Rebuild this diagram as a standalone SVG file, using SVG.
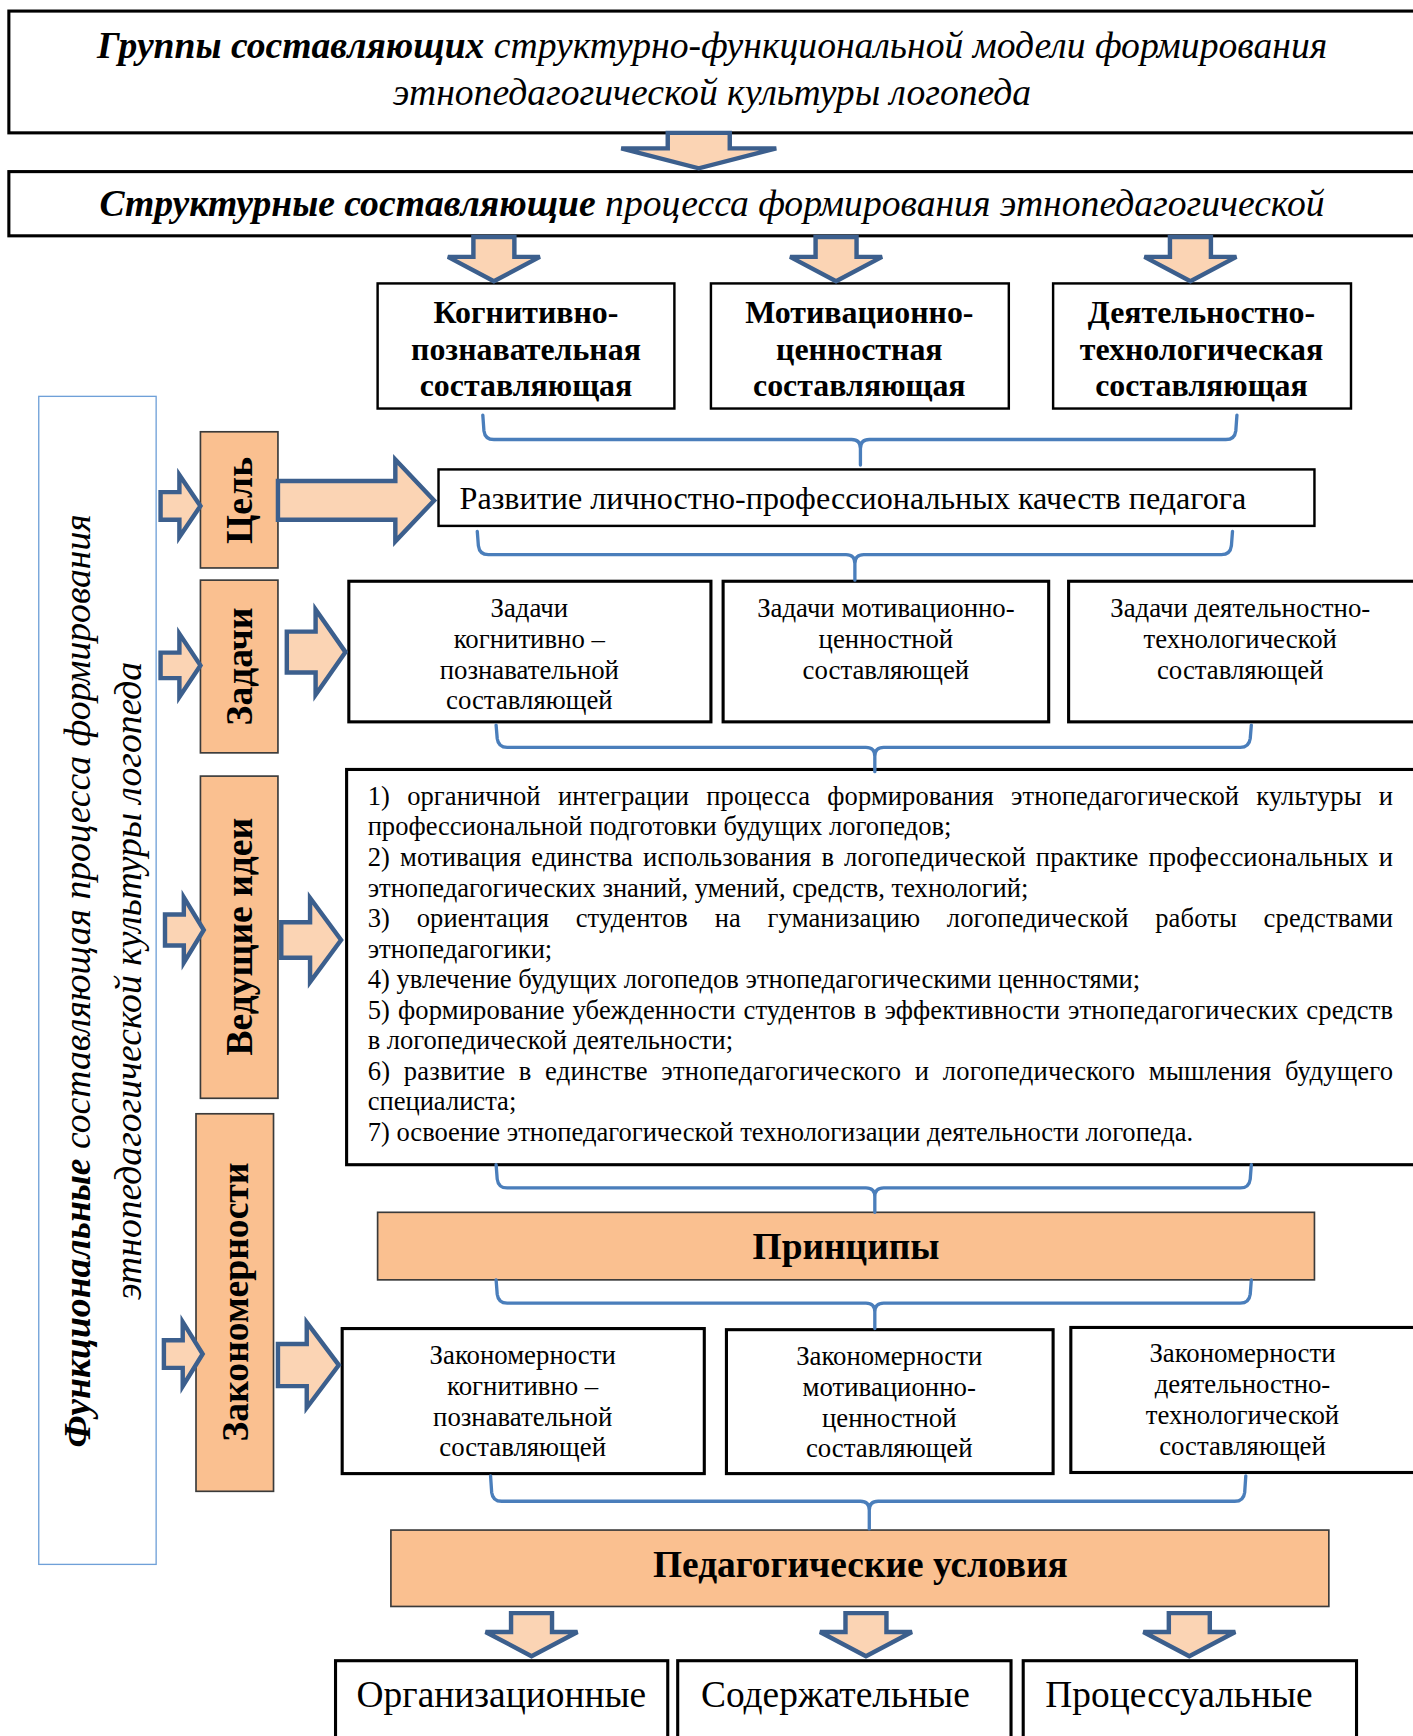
<svg xmlns="http://www.w3.org/2000/svg" width="1413" height="1736" viewBox="0 0 1413 1736">
<style>
.bx{fill:#fff;stroke:#000;stroke-width:2.2}
.bxt{fill:#fff;stroke:#000;stroke-width:2.8}
.or{fill:#FAC090;stroke:#3a3a3a;stroke-width:1.5}
.ar{fill:#FBD4B4;stroke:#3C5F8D;stroke-width:4;stroke-linejoin:miter}
.br{fill:none;stroke:#4A7EBB;stroke-width:3;stroke-linecap:round}
.t{font-family:"Liberation Serif","Times New Roman",serif;fill:#000}
.ti{font-style:italic;font-size:34px}
.b{font-weight:bold}
.hd{font-size:28.8px;font-weight:bold;text-anchor:middle}
.sm{font-size:24.2px;text-anchor:middle}
.id{font-size:24px}
.vt{font-size:34px;font-weight:bold;text-anchor:middle}
.big{font-size:33.8px}
</style>
<rect width="1413" height="1736" fill="#fff"/>
<g transform="scale(1.10737,1.10714)">
<g id="title">
<rect class="bxt" x="8" y="10" width="1290" height="110"/>
<text class="t ti" x="643" y="52" text-anchor="middle"><tspan class="b">Группы составляющих</tspan> структурно-функциональной модели формирования</text>
<text class="t ti" x="643" y="95" text-anchor="middle">этнопедагогической культуры логопеда</text>
</g>
<g id="structural">
<rect class="bxt" x="8" y="155" width="1290" height="58"/>
<text class="t ti" x="643" y="195" text-anchor="middle"><tspan class="b">Структурные составляющие</tspan> процесса формирования этнопедагогической</text>
</g>
<g id="functional">
<rect x="35" y="358" width="106" height="1055" fill="#fff" stroke="#6FA0D8" stroke-width="1.2"/>
<g transform="translate(0,886) rotate(-90)">
<text class="t ti" x="0" y="81" text-anchor="middle"><tspan class="b">Функциональные</tspan> составляющая процесса формирования</text>
<text class="t ti" x="0" y="127" text-anchor="middle">этнопедагогической культуры логопеда</text>
</g>
</g>
<g id="comp-cog">
<rect class="bx" x="341" y="256" width="268" height="113"/>
<text class="t hd" x="475" y="292">Когнитивно-</text>
<text class="t hd" x="475" y="325">познавательная</text>
<text class="t hd" x="475" y="358">составляющая</text>
</g>
<g id="comp-mot">
<rect class="bx" x="642" y="256" width="269" height="113"/>
<text class="t hd" x="776" y="292">Мотивационно-</text>
<text class="t hd" x="776" y="325">ценностная</text>
<text class="t hd" x="776" y="358">составляющая</text>
</g>
<g id="comp-act">
<rect class="bx" x="951" y="256" width="269" height="113"/>
<text class="t hd" x="1085" y="292">Деятельностно-</text>
<text class="t hd" x="1085" y="325">технологическая</text>
<text class="t hd" x="1085" y="358">составляющая</text>
</g>
<g id="goal">
<rect class="or" x="181" y="390" width="70" height="123"/>
<text class="t vt" transform="translate(216,452) rotate(-90)" x="0" y="12">Цель</text>
</g>
<g id="goal-text">
<rect class="bx" x="396" y="424" width="791" height="51" stroke-width="1.5"/>
<text class="t" x="415" y="460" font-size="29">Развитие личностно-профессиональных качеств педагога</text>
</g>
<g id="tasks">
<rect class="or" x="181" y="524" width="70" height="156"/>
<text class="t vt" transform="translate(216,602) rotate(-90)" x="0" y="12">Задачи</text>
</g>
<g id="task-cog">
<rect class="bxt" x="315" y="525" width="327" height="127"/>
<text class="t sm" x="478" y="557">Задачи</text>
<text class="t sm" x="478" y="585">когнитивно –</text>
<text class="t sm" x="478" y="613">познавательной</text>
<text class="t sm" x="478" y="640">составляющей</text>
</g>
<g id="task-mot">
<rect class="bxt" x="653" y="525" width="294" height="127"/>
<text class="t sm" x="800" y="557">Задачи мотивационно-</text>
<text class="t sm" x="800" y="585">ценностной</text>
<text class="t sm" x="800" y="613">составляющей</text>
</g>
<g id="task-act">
<rect class="bxt" x="965" y="525" width="330" height="127"/>
<text class="t sm" x="1120" y="557">Задачи деятельностно-</text>
<text class="t sm" x="1120" y="585">технологической</text>
<text class="t sm" x="1120" y="613">составляющей</text>
</g>
<g id="ideas">
<rect class="or" x="181" y="701" width="70" height="291"/>
<text class="t vt" transform="translate(216,846) rotate(-90)" x="0" y="12">Ведущие идеи</text>
</g>
<g id="ideas-list">
<rect class="bxt" x="313" y="695" width="990" height="357"/>
<text class="t id" x="332" y="727" word-spacing="9.5" textLength="926" lengthAdjust="spacing">1) органичной интеграции процесса формирования этнопедагогической культуры и</text>
<text class="t id" x="332" y="754.6">профессиональной подготовки будущих логопедов;</text>
<text class="t id" x="332" y="782.2" word-spacing="3" textLength="926" lengthAdjust="spacing">2) мотивация единства использования в логопедической практике профессиональных и</text>
<text class="t id" x="332" y="809.8">этнопедагогических знаний, умений, средств, технологий;</text>
<text class="t id" x="332" y="837.4" word-spacing="18" textLength="926" lengthAdjust="spacing">3) ориентация студентов на гуманизацию логопедической работы средствами</text>
<text class="t id" x="332" y="865">этнопедагогики;</text>
<text class="t id" x="332" y="892.6">4) увлечение будущих логопедов этнопедагогическими ценностями;</text>
<text class="t id" x="332" y="920.2" word-spacing="1" textLength="926" lengthAdjust="spacing">5) формирование убежденности студентов в эффективности этнопедагогических средств</text>
<text class="t id" x="332" y="947.8">в логопедической деятельности;</text>
<text class="t id" x="332" y="975.4" word-spacing="6" textLength="926" lengthAdjust="spacing">6) развитие в единстве этнопедагогического и логопедического мышления будущего</text>
<text class="t id" x="332" y="1003">специалиста;</text>
<text class="t id" x="332" y="1031">7) освоение этнопедагогической технологизации деятельности логопеда.</text>
</g>
<g id="principles">
<rect class="or" x="341" y="1095" width="846" height="61"/>
<text class="t b" x="764" y="1137" font-size="33.8" text-anchor="middle">Принципы</text>
</g>
<g id="laws">
<rect class="or" x="177" y="1006" width="70" height="341"/>
<text class="t vt" transform="translate(212,1176) rotate(-90)" x="0" y="12">Закономерности</text>
</g>
<g id="law-cog">
<rect class="bxt" x="309" y="1200" width="327" height="131"/>
<text class="t sm" x="472" y="1232">Закономерности</text>
<text class="t sm" x="472" y="1260">когнитивно –</text>
<text class="t sm" x="472" y="1288">познавательной</text>
<text class="t sm" x="472" y="1315">составляющей</text>
</g>
<g id="law-mot">
<rect class="bxt" x="656" y="1201" width="295" height="130"/>
<text class="t sm" x="803" y="1233">Закономерности</text>
<text class="t sm" x="803" y="1261">мотивационно-</text>
<text class="t sm" x="803" y="1289">ценностной</text>
<text class="t sm" x="803" y="1316">составляющей</text>
</g>
<g id="law-act">
<rect class="bxt" x="967" y="1199" width="330" height="131"/>
<text class="t sm" x="1122" y="1230">Закономерности</text>
<text class="t sm" x="1122" y="1258">деятельностно-</text>
<text class="t sm" x="1122" y="1286">технологической</text>
<text class="t sm" x="1122" y="1314">составляющей</text>
</g>
<g id="conditions">
<rect class="or" x="353" y="1382" width="847" height="69"/>
<text class="t b" x="777" y="1424" font-size="33.8" text-anchor="middle">Педагогические условия</text>
</g>
<g id="cond-org">
<rect class="bxt" x="303" y="1500" width="300" height="80"/>
<text class="t big" x="322" y="1542">Организационные</text>
</g>
<g id="cond-cont">
<rect class="bxt" x="612" y="1500" width="301" height="80"/>
<text class="t big" x="633" y="1542">Содержательные</text>
</g>
<g id="cond-proc">
<rect class="bxt" x="924" y="1500" width="301" height="80"/>
<text class="t big" x="944" y="1542">Процессуальные</text>
</g>
<g id="connectors">
<path class="ar" d="M603,120 L659,120 L659,134 L701,134 L631,152 L561,134 L603,134Z"/>
<path class="ar" d="M427.5,214 L464.5,214 L464.5,232 L487.5,232 L446,254 L404.5,232 L427.5,232Z"/>
<path class="ar" d="M736.5,214 L773.5,214 L773.5,232 L796.5,232 L755,254 L713.5,232 L736.5,232Z"/>
<path class="ar" d="M1056.5,214 L1093.5,214 L1093.5,232 L1116.5,232 L1075,254 L1033.5,232 L1056.5,232Z"/>
<path class="ar" d="M145,444.5 L162,444.5 L162,429 L181,457 L162,485 L162,469.5 L145,469.5Z"/>
<path class="ar" d="M251,434.5 L357,434.5 L357,415 L392,452 L357,489 L357,469.5 L251,469.5Z"/>
<path class="ar" d="M145,589.5 L162,589.5 L162,572.5 L181,601 L162,629.5 L162,612.5 L145,612.5Z"/>
<path class="ar" d="M259,570.5 L285,570.5 L285,550.5 L312,589 L285,627.5 L285,607.5 L259,607.5Z"/>
<path class="ar" d="M149,826 L166,826 L166,810.5 L184,840 L166,869.5 L166,854 L149,854Z"/>
<path class="ar" d="M254,833 L280,833 L280,811 L308,849 L280,887 L280,865 L254,865Z"/>
<path class="ar" d="M148,1210.5 L165,1210.5 L165,1194 L183,1223 L165,1252 L165,1235.5 L148,1235.5Z"/>
<path class="ar" d="M251,1214 L277,1214 L277,1194.5 L306,1233 L277,1271.5 L277,1252 L251,1252Z"/>
<path class="ar" d="M461.5,1457 L498.5,1457 L498.5,1474 L521.5,1474 L480,1496 L438.5,1474 L461.5,1474Z"/>
<path class="ar" d="M763.5,1457 L800.5,1457 L800.5,1474 L823.5,1474 L782,1496 L740.5,1474 L763.5,1474Z"/>
<path class="ar" d="M1055.5,1457 L1092.5,1457 L1092.5,1474 L1115.5,1474 L1074,1496 L1032.5,1474 L1055.5,1474Z"/>
<path class="br" d="M436,375 L437,389 Q438,397 446,397 L769,397 Q777,397 777,405 L777,420 M777,405 Q777,397 785,397 L1107,397 Q1115,397 1116,389 L1117,375"/>
<path class="br" d="M431,480 L432,493 Q433,501 441,501 L764,501 Q772,501 772,509 L772,524 M772,509 Q772,501 780,501 L1103,501 Q1111,501 1112,493 L1113,480"/>
<path class="br" d="M448,655 L449,667 Q450,675 458,675 L782,675 Q790,675 790,683 L790,697 M790,683 Q790,675 798,675 L1120,675 Q1128,675 1129,667 L1130,655"/>
<path class="br" d="M448,1052 L449,1065 Q450,1073 458,1073 L782,1073 Q790,1073 790,1081 L790,1095 M790,1081 Q790,1073 798,1073 L1120,1073 Q1128,1073 1129,1065 L1130,1052"/>
<path class="br" d="M448,1156 L449,1169 Q450,1177 458,1177 L782,1177 Q790,1177 790,1185 L790,1200 M790,1185 Q790,1177 798,1177 L1120,1177 Q1128,1177 1129,1169 L1130,1156"/>
<path class="br" d="M443,1333 L444,1348 Q445,1356 453,1356 L777,1356 Q785,1356 785,1364 L785,1381 M785,1364 Q785,1356 793,1356 L1115,1356 Q1123,1356 1124,1348 L1125,1333"/>
</g>
</g>
</svg>
